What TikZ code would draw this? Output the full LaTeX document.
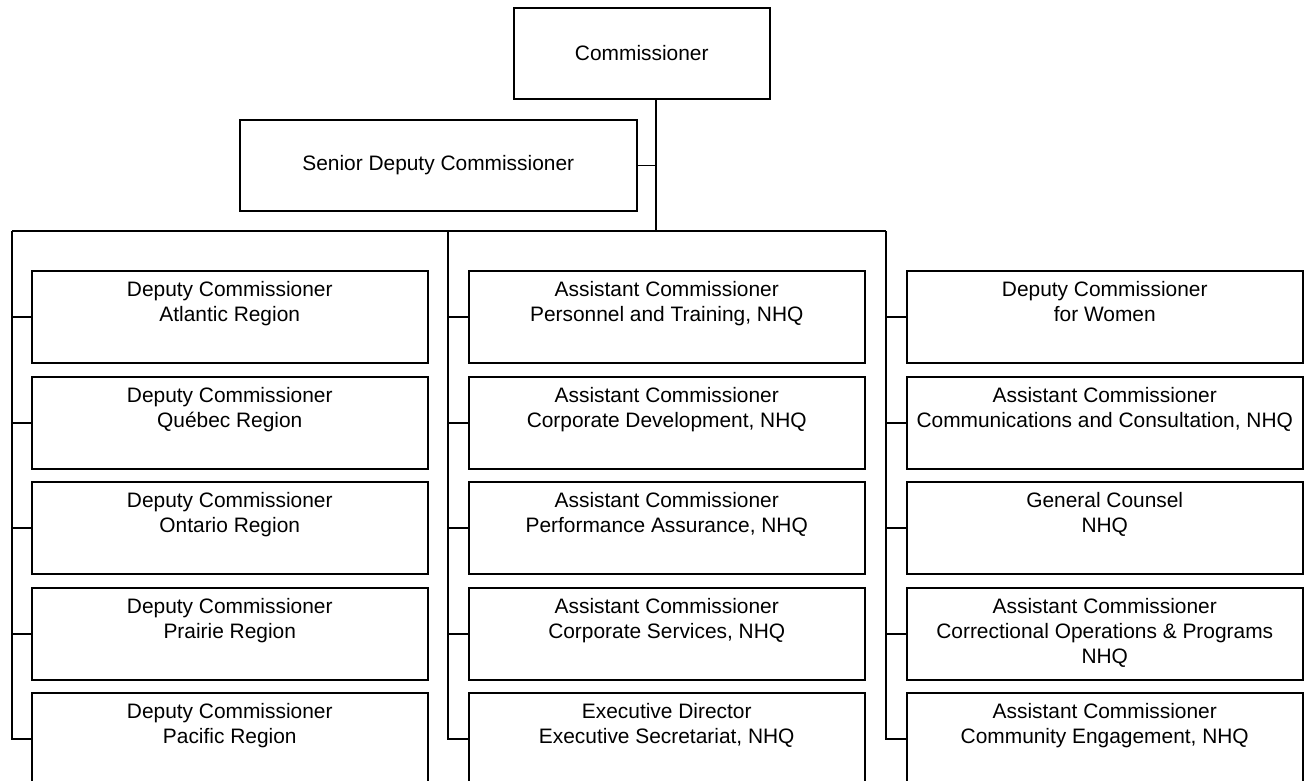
\documentclass[tikz,border=0pt]{standalone}
\usepackage{fontspec}
\setmainfont{Liberation Sans}
\newcommand{\toptxt}[1]{\parbox[c][92pt][t]{396pt}{\centering\rule{0pt}{26pt}#1}}
\begin{document}
\begin{tikzpicture}[x=1pt,y=-1pt,line width=1.5pt,
  font=\fontsize{20.9}{25}\selectfont,
  box/.style={draw,rectangle,inner sep=0pt,anchor=north west},
  topbox/.style={box,align=center},
  colbox/.style={box}]
\clip (0,0) rectangle (1306,780);
\fill[white] (0,0) rectangle (1306,780);
% top boxes
\node[topbox,minimum width=256pt,minimum height=91pt] (comm) at (513,7) {Commissioner};
\node[topbox,minimum width=397pt,minimum height=91pt] (sdc) at (239,119) {Senior Deputy Commissioner};
% left column
\node[colbox] (L1) at (31,270) {\toptxt{Deputy Commissioner\\Atlantic Region}};
\node[colbox] (L2) at (31,376) {\toptxt{Deputy Commissioner\\Québec Region}};
\node[colbox] (L3) at (31,481) {\toptxt{Deputy Commissioner\\Ontario Region}};
\node[colbox] (L4) at (31,587) {\toptxt{Deputy Commissioner\\Prairie Region}};
\node[colbox] (L5) at (31,692) {\toptxt{Deputy Commissioner\\Pacific Region}};
% middle column
\node[colbox] (M1) at (468,270) {\toptxt{Assistant Commissioner\\Personnel and Training, NHQ}};
\node[colbox] (M2) at (468,376) {\toptxt{Assistant Commissioner\\Corporate Development, NHQ}};
\node[colbox] (M3) at (468,481) {\toptxt{Assistant Commissioner\\Performance Assurance, NHQ}};
\node[colbox] (M4) at (468,587) {\toptxt{Assistant Commissioner\\Corporate Services, NHQ}};
\node[colbox] (M5) at (468,692) {\toptxt{Executive Director\\Executive Secretariat, NHQ}};
% right column
\node[colbox] (R1) at (906,270) {\toptxt{Deputy Commissioner\\for Women}};
\node[colbox] (R2) at (906,376) {\toptxt{Assistant Commissioner\\Communications and Consultation, NHQ}};
\node[colbox] (R3) at (906,481) {\toptxt{General Counsel\\NHQ}};
\node[colbox] (R4) at (906,587) {\toptxt{Assistant Commissioner\\Correctional Operations \& Programs\\NHQ}};
\node[colbox] (R5) at (906,692) {\toptxt{Assistant Commissioner\\Community Engagement, NHQ}};
% connectors
\coordinate (trunk) at (656,231);
\coordinate (busL) at (12,231);
\coordinate (busM) at (448,231);
\coordinate (busR) at (886,231);
\draw (comm.south -| trunk) -- (trunk);
\draw (sdc.east) -- (sdc.east -| trunk);
\draw (busL) -- (busR);
\draw (busL) |- (L5.west);
\draw (busM) |- (M5.west);
\draw (busR) |- (R5.west);
\foreach \c/\b in {L/busL,M/busM,R/busR}{
  \foreach \i in {1,2,3,4}{
    \draw (\c\i.west -| \b) -- (\c\i.west);
  }
}
\end{tikzpicture}
\end{document}
